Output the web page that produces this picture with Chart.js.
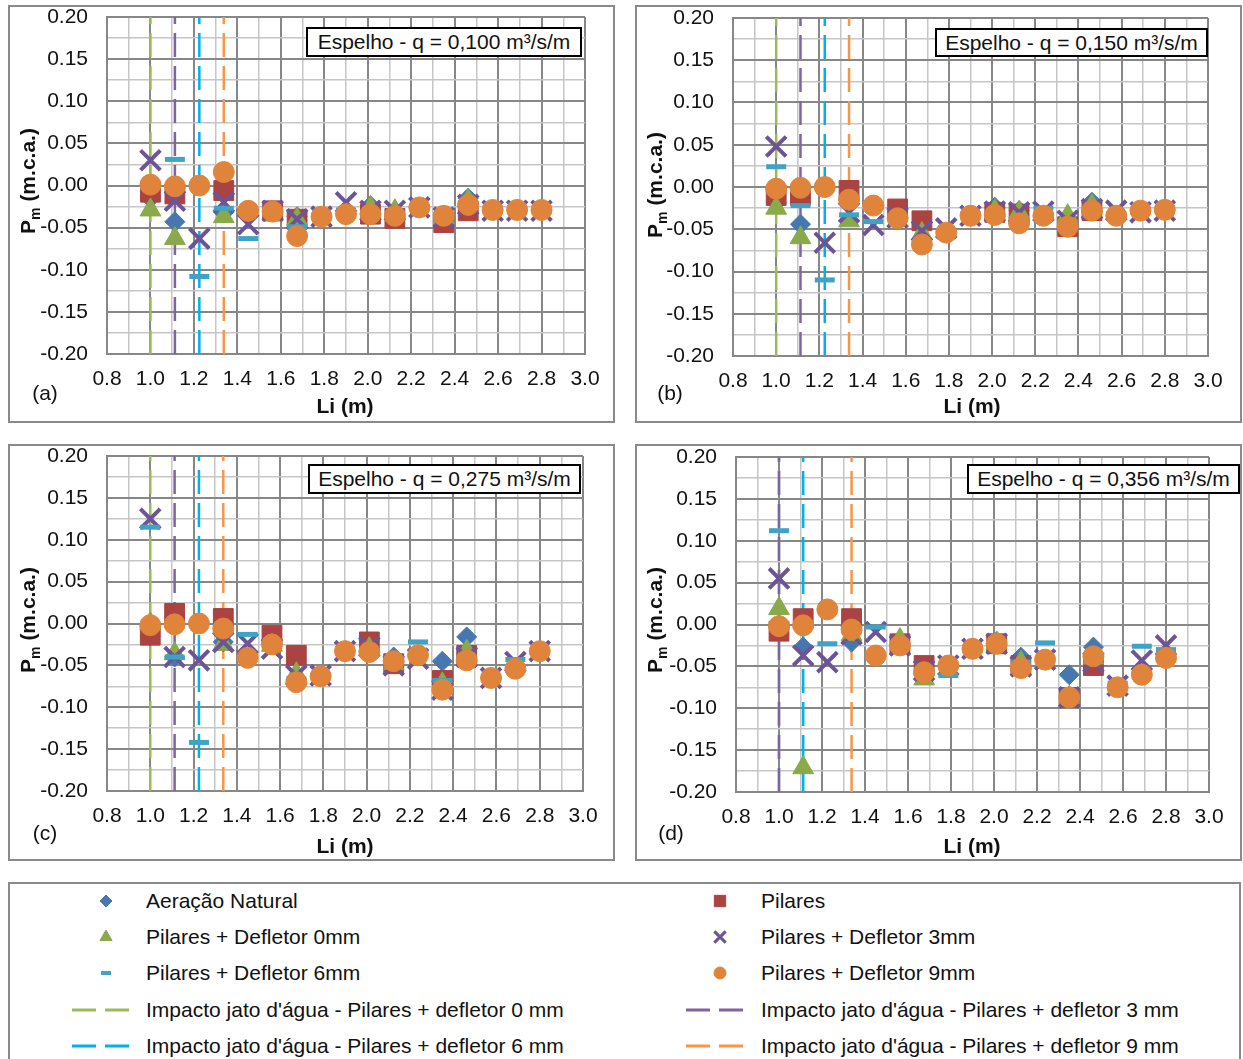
<!DOCTYPE html>
<html lang="pt">
<head>
<meta charset="utf-8">
<title>Pressões médias no espelho</title>
<script src="https://cdn.jsdelivr.net/npm/chart.js@4.4.1/dist/chart.umd.min.js"></script>
<style>
    body {
        margin: 0;
        width: 1243px;
        height: 1059px;
        overflow: hidden;
        position: relative;
        background: #fff;
        font-family: "Liberation Sans", Arial, sans-serif;
        color: #111;
    }
    .panel { position: absolute; }
    .panel canvas { position: absolute; left: 0; }
    .frame {
        position: absolute; left: 0; top: 0; right: 0; bottom: 0;
        box-sizing: border-box; border: 2px solid #8a8a8a; pointer-events: none;
    }
    .ytitle, .xtitle {
        position: absolute; width: 240px; height: 26px; line-height: 26px;
        text-align: center; font-weight: bold; font-size: 21px; white-space: nowrap;
    }
    .ytitle { transform: rotate(-90deg); }
    .ytitle sub { font-size: 14px; vertical-align: -5px; }
    .tag {
        position: absolute; width: 60px; height: 26px; line-height: 26px;
        text-align: center; font-size: 21px;
    }
    .qbox {
        position: absolute; box-sizing: border-box; border: 2px solid #000; background: #fff;
        text-align: center; font-size: 21px; white-space: nowrap;
    }
    #legend {
        position: absolute; left: 8px; top: 882px; width: 1233px; height: 200px;
        box-sizing: border-box; border: 2px solid #8a8a8a;
    }
    .item { position: absolute; height: 30px; }
    .item canvas { position: absolute; left: 0; top: 0; }
    .item span {
        position: absolute; top: 0; line-height: 30px; font-size: 21px; white-space: nowrap;
    }
</style>
</head>
<body>

<div id="legend"></div>

<script>
// estações de medição ao longo do espelho (m)
const stations = [1.0, 1.1125, 1.225, 1.3375, 1.45, 1.5625, 1.675, 1.7875, 1.9, 2.0125, 2.125, 2.2375, 2.35, 2.4625, 2.575, 2.6875, 2.8];

const xGrid = [0.8, 0.9, 1.0, 1.1, 1.2, 1.3, 1.4, 1.5, 1.6, 1.7, 1.8, 1.9, 2.0, 2.1, 2.2, 2.3, 2.4, 2.5, 2.6, 2.7, 2.8, 2.9, 3.0];
const xLabelled = [0.8, 1.0, 1.2, 1.4, 1.6, 1.8, 2.0, 2.2, 2.4, 2.6, 2.8, 3.0];
const yGrid = [-0.2, -0.175, -0.15, -0.125, -0.1, -0.075, -0.05, -0.025, 0, 0.025, 0.05, 0.075, 0.1, 0.125, 0.15, 0.175, 0.2];
const yLabelled = [-0.2, -0.15, -0.1, -0.05, 0, 0.05, 0.1, 0.15, 0.2];

const seriesNames = ["Aeração Natural", "Pilares", "Pilares + Defletor 0mm", "Pilares + Defletor 3mm", "Pilares + Defletor 6mm", "Pilares + Defletor 9mm"];
const impactNames = [
    "Impacto jato d'água - Pilares + defletor 0 mm",
    "Impacto jato d'água - Pilares + defletor 3 mm",
    "Impacto jato d'água - Pilares + defletor 6 mm",
    "Impacto jato d'água - Pilares + defletor 9 mm"
];
const qLabels = ["0,100", "0,150", "0,275", "0,356"];
const tags = ["(a)", "(b)", "(c)", "(d)"];

// (a) q = 0,100 m³/s/m
const naturalA = [-0.015, -0.043, null, -0.032, -0.030, -0.031, -0.037, -0.037, -0.034, -0.024, -0.036, -0.026, -0.036, -0.015, -0.029, -0.029, -0.029];
const pilaresA = [-0.008, -0.010, null, -0.006, null, -0.030, -0.040, null, null, -0.034, -0.039, null, -0.044, -0.030, null, null, null];
const def0A = [-0.029, -0.063, null, -0.037, null, -0.035, -0.040, null, null, -0.026, -0.030, null, -0.038, -0.018, null, null, null];
const def3A = [0.030, -0.018, -0.063, -0.020, -0.046, -0.030, -0.040, -0.037, -0.020, -0.030, -0.030, -0.026, -0.038, -0.023, -0.030, -0.030, -0.030];
const def6A = [-0.002, 0.031, -0.108, -0.027, -0.063, -0.030, -0.049, -0.037, -0.029, -0.032, -0.034, -0.026, -0.036, -0.023, -0.029, -0.029, -0.029];
const def9A = [0.001, -0.001, 0.000, 0.016, -0.030, -0.031, -0.060, -0.037, -0.034, -0.034, -0.036, -0.026, -0.036, -0.023, -0.029, -0.029, -0.029];
const impactA = [1.0, 1.1125, 1.225, 1.3375];

// (b) q = 0,150 m³/s/m
const naturalB = [-0.018, -0.044, null, null, null, null, null, null, null, -0.024, -0.028, null, null, -0.018, null, null, null];
const pilaresB = [-0.010, -0.010, null, -0.004, null, -0.026, -0.040, null, null, -0.030, -0.032, null, -0.047, -0.028, null, null, null];
const def0B = [-0.025, -0.060, null, -0.040, null, -0.040, -0.055, null, null, -0.028, -0.030, null, -0.034, -0.022, null, null, null];
const def3B = [0.048, null, -0.066, -0.030, -0.045, -0.036, -0.052, -0.049, -0.034, -0.029, -0.030, -0.029, -0.040, -0.026, -0.028, -0.030, -0.028];
const def6B = [0.024, -0.022, -0.110, -0.033, -0.041, -0.037, -0.065, -0.054, -0.032, -0.030, -0.040, -0.025, -0.046, -0.027, -0.033, -0.028, -0.027];
const def9B = [-0.002, -0.001, 0.000, -0.015, -0.022, -0.037, -0.068, -0.054, -0.034, -0.033, -0.043, -0.034, -0.047, -0.028, -0.034, -0.028, -0.027];
const impactB = [1.0, 1.1125, 1.225, 1.3375];

// (c) q = 0,275 m³/s/m
const naturalC = [-0.015, -0.040, null, -0.022, null, null, null, null, null, null, -0.040, null, -0.045, -0.016, null, null, null];
const pilaresC = [-0.014, 0.012, null, 0.006, null, -0.014, -0.038, null, null, -0.022, -0.048, null, -0.068, -0.038, null, null, null];
const def0C = [0.000, -0.036, null, -0.025, null, -0.026, -0.060, null, null, -0.030, -0.048, null, -0.072, -0.033, null, null, null];
const def3C = [0.125, -0.040, -0.044, -0.022, -0.024, -0.030, -0.062, -0.062, -0.033, -0.028, -0.050, -0.042, -0.079, -0.040, -0.065, -0.046, -0.033];
const def6C = [0.115, -0.040, -0.142, -0.010, -0.013, -0.029, -0.066, -0.062, -0.033, -0.032, -0.046, -0.022, -0.068, -0.040, -0.065, -0.043, -0.033];
const def9C = [-0.002, -0.001, 0.000, -0.006, -0.041, -0.025, -0.070, -0.063, -0.033, -0.034, -0.045, -0.038, -0.079, -0.044, -0.065, -0.054, -0.033];
const impactC = [1.0, 1.1125, 1.225, 1.3375];

// (d) q = 0,356 m³/s/m
const naturalD = [null, -0.027, null, -0.021, null, null, null, null, null, -0.020, -0.039, null, -0.060, -0.027, null, null, null];
const pilaresD = [-0.008, 0.007, null, 0.007, null, -0.023, -0.049, null, null, -0.023, -0.049, null, -0.087, -0.049, null, null, null];
const def0D = [0.019, -0.171, null, -0.012, null, -0.018, -0.065, null, null, -0.022, -0.045, null, -0.087, -0.040, null, null, null];
const def3D = [0.055, -0.037, -0.045, -0.012, -0.009, -0.025, -0.055, -0.049, -0.029, -0.023, -0.050, -0.042, -0.087, -0.045, -0.073, -0.043, -0.025];
const def6D = [0.112, null, -0.023, -0.008, -0.003, -0.025, -0.055, -0.061, -0.029, -0.023, -0.045, -0.022, -0.087, -0.042, -0.070, -0.026, -0.030];
const def9D = [-0.002, -0.001, 0.018, -0.006, -0.037, -0.025, -0.057, -0.049, -0.029, -0.023, -0.052, -0.042, -0.087, -0.038, -0.075, -0.060, -0.040];
const impactD = [1.0, 1.0, 1.1125, 1.3375];

const panelSeries = [
    [naturalA, pilaresA, def0A, def3A, def6A, def9A],
    [naturalB, pilaresB, def0B, def3B, def6B, def9B],
    [naturalC, pilaresC, def0C, def3C, def6C, def9C],
    [naturalD, pilaresD, def0D, def3D, def6D, def9D]
];
const panelImpacts = [impactA, impactB, impactC, impactD];

// estilos dos marcadores e das linhas tracejadas
const markerStyles = [
    { pointStyle: "rectRot", radius: 10, color: "#4677b0", legendRadius: 6 },
    { pointStyle: "rect", radius: 14, color: "#aa4341", legendRadius: 8 },
    { pointStyle: "triangle", radius: 12, color: "#89a94b", legendRadius: 7 },
    { pointStyle: "crossRot", radius: 14, color: "#6c5497", borderWidth: 4, legendRadius: 8, legendWidth: 3 },
    { pointStyle: "line", radius: 10, color: "#3fa3c5", borderWidth: 5, legendRadius: 5, legendWidth: 4 },
    { pointStyle: "circle", radius: 10.5, color: "#df843a", legendRadius: 6 }
];
const lineColors = ["#9bbb59", "#8064a2", "#00b0f0", "#f79646"];
const lineDash = [24, 9];

// posição de cada gráfico na página
const panelBoxes = [
    { left: 8, top: 5, width: 607, height: 418, plot: { left: 99, top: 12, right: 577, bottom: 349 }, yTitle: [20, 176], xTitle: [337, 401], tag: [37, 388], qBox: [298, 22, 276, 30] },
    { left: 635, top: 5, width: 607, height: 418, plot: { left: 98, top: 13, right: 573, bottom: 351 }, yTitle: [20, 180], xTitle: [337, 401], tag: [35, 388], qBox: [300, 23, 273, 29] },
    { left: 8, top: 444, width: 607, height: 417, plot: { left: 99, top: 12, right: 575, bottom: 347 }, yTitle: [20, 176], xTitle: [337, 402], tag: [37, 389], qBox: [300, 20, 273, 30] },
    { left: 635, top: 444, width: 607, height: 417, plot: { left: 101, top: 13, right: 574, bottom: 348 }, yTitle: [20, 176], xTitle: [337, 402], tag: [36, 389], qBox: [332, 20, 273, 30] }
];
// o eixo y reserva meia altura de rótulo acima da área útil; o canvas sobe
// um pouco para que a linha 0.20 fique junto ao topo do quadro
const canvasShift = 6;

const tickFont = { family: "'Liberation Sans', Arial, sans-serif", size: 21 };

function inList(v, list) {
    return list.some(t => Math.abs(t - v) < 1e-6);
}

function markerDataset(values, k) {
    const st = markerStyles[k];
    return {
        label: seriesNames[k],
        data: stations.map((x, i) => ({ x: x, y: values[i] })).filter(p => p.y !== null),
        pointStyle: st.pointStyle,
        pointRadius: st.radius,
        pointHoverRadius: st.radius,
        backgroundColor: st.color,
        borderColor: st.color,
        pointBorderWidth: st.borderWidth || 1,
        showLine: false,
        order: 6 - k
    };
}

function impactDataset(x, k) {
    return {
        label: impactNames[k],
        data: [{ x: x, y: -0.2 }, { x: x, y: 0.2 }],
        showLine: true,
        borderColor: lineColors[k],
        borderWidth: 2.5,
        borderDash: lineDash,
        pointRadius: 0,
        pointHoverRadius: 0,
        fill: false,
        order: 13 - k
    };
}

function gridOptions(list) {
    return {
        drawTicks: false,
        color: c => (c.tick && inList(c.tick.value, list)) ? "#878787" : "#c6c6c6",
        lineWidth: c => (c.tick && inList(c.tick.value, list)) ? 2 : 1.5
    };
}

function buildPanel(p, n) {
    const wrap = document.createElement("div");
    wrap.className = "panel";
    wrap.style.left = p.left + "px";
    wrap.style.top = p.top + "px";
    wrap.style.width = p.width + "px";
    wrap.style.height = p.height + "px";
    document.body.appendChild(wrap);

    const canvas = document.createElement("canvas");
    canvas.width = p.width;
    canvas.height = p.height + canvasShift;
    canvas.style.top = (-canvasShift) + "px";
    wrap.appendChild(canvas);

    const frame = document.createElement("div");
    frame.className = "frame";
    wrap.appendChild(frame);

    const yTitle = document.createElement("div");
    yTitle.className = "ytitle";
    yTitle.innerHTML = "P<sub>m</sub> (m.c.a.)";
    yTitle.style.left = (p.yTitle[0] - 120) + "px";
    yTitle.style.top = (p.yTitle[1] - 13) + "px";
    wrap.appendChild(yTitle);

    const xTitle = document.createElement("div");
    xTitle.className = "xtitle";
    xTitle.textContent = "Li (m)";
    xTitle.style.left = (p.xTitle[0] - 120) + "px";
    xTitle.style.top = (p.xTitle[1] - 13) + "px";
    wrap.appendChild(xTitle);

    const tag = document.createElement("div");
    tag.className = "tag";
    tag.textContent = tags[n];
    tag.style.left = (p.tag[0] - 30) + "px";
    tag.style.top = (p.tag[1] - 13) + "px";
    wrap.appendChild(tag);

    const qBox = document.createElement("div");
    qBox.className = "qbox";
    qBox.textContent = "Espelho - q = " + qLabels[n] + " m³/s/m";
    qBox.style.left = p.qBox[0] + "px";
    qBox.style.top = p.qBox[1] + "px";
    qBox.style.width = p.qBox[2] + "px";
    qBox.style.height = p.qBox[3] + "px";
    qBox.style.lineHeight = (p.qBox[3] - 4) + "px";
    wrap.appendChild(qBox);

    const datasets = panelSeries[n].map((values, k) => markerDataset(values, k))
        .concat(panelImpacts[n].map((x, k) => impactDataset(x, k)));

    new Chart(canvas.getContext("2d"), {
        type: "scatter",
        data: { datasets: datasets },
        options: {
            responsive: false,
            animation: false,
            devicePixelRatio: 1,
            layout: { padding: { left: 0, top: p.plot.top + canvasShift, right: p.width - p.plot.right, bottom: 0 } },
            plugins: { legend: { display: false }, tooltip: { enabled: false } },
            scales: {
                x: {
                    type: "linear",
                    min: 0.8,
                    max: 3.0,
                    afterBuildTicks: s => { s.ticks = xGrid.map(v => ({ value: v })); },
                    afterFit: s => {
                        s.height = p.height - p.plot.bottom;
                        s.paddingLeft = 0;
                        s.paddingRight = 0;
                    },
                    grid: gridOptions(xLabelled),
                    border: { display: true, color: "#878787", width: 2 },
                    ticks: {
                        autoSkip: false,
                        maxRotation: 0,
                        padding: 13,
                        color: "#111",
                        font: tickFont,
                        callback: v => inList(v, xLabelled) ? v.toFixed(1) : ""
                    }
                },
                y: {
                    type: "linear",
                    min: -0.2,
                    max: 0.2,
                    afterBuildTicks: s => { s.ticks = yGrid.map(v => ({ value: v })); },
                    afterFit: s => {
                        s.width = p.plot.left;
                        s.paddingTop = 0;
                        s.paddingBottom = 0;
                    },
                    grid: gridOptions(yLabelled),
                    border: { display: true, color: "#878787", width: 2 },
                    ticks: {
                        autoSkip: false,
                        padding: 19,
                        color: "#111",
                        font: tickFont,
                        callback: v => inList(v, yLabelled) ? v.toFixed(2) : ""
                    }
                }
            }
        }
    });
}

panelBoxes.forEach((p, n) => buildPanel(p, n));

// legenda comum aos quatro gráficos
const legendRows = [19, 55, 91, 128, 164];
const legendCols = [{ mark: 96, text: 136 }, { mark: 710, text: 751 }];
const legendItems = [
    { kind: "marker", k: 0, col: 0, row: 0 },
    { kind: "marker", k: 1, col: 1, row: 0 },
    { kind: "marker", k: 2, col: 0, row: 1 },
    { kind: "marker", k: 3, col: 1, row: 1 },
    { kind: "marker", k: 4, col: 0, row: 2 },
    { kind: "marker", k: 5, col: 1, row: 2 },
    { kind: "line", k: 0, col: 0, row: 3 },
    { kind: "line", k: 1, col: 1, row: 3 },
    { kind: "line", k: 2, col: 0, row: 4 },
    { kind: "line", k: 3, col: 1, row: 4 }
];

const legend = document.getElementById("legend");
legendItems.forEach(item => {
    const col = legendCols[item.col];
    const div = document.createElement("div");
    div.className = "item";
    div.style.left = (col.mark - 36) + "px";
    div.style.top = (legendRows[item.row] - 15 - 2) + "px";

    const c = document.createElement("canvas");
    c.width = 72;
    c.height = 30;
    div.appendChild(c);
    const ctx = c.getContext("2d");

    if (item.kind === "marker") {
        const st = markerStyles[item.k];
        ctx.fillStyle = st.color;
        ctx.strokeStyle = st.color;
        ctx.lineWidth = st.legendWidth || 1;
        Chart.helpers.drawPoint(ctx, {
            pointStyle: st.pointStyle,
            radius: st.legendRadius,
            rotation: 0,
            borderWidth: st.legendWidth || 1
        }, 36, 15);
    } else {
        ctx.strokeStyle = lineColors[item.k];
        ctx.lineWidth = 3;
        ctx.setLineDash(lineDash);
        ctx.beginPath();
        ctx.moveTo(2, 15);
        ctx.lineTo(62, 15);
        ctx.stroke();
    }

    const span = document.createElement("span");
    span.style.left = (col.text - col.mark + 36) + "px";
    span.textContent = item.kind === "marker" ? seriesNames[item.k] : impactNames[item.k];
    div.appendChild(span);
    legend.appendChild(div);
});
</script>
</body>
</html>
